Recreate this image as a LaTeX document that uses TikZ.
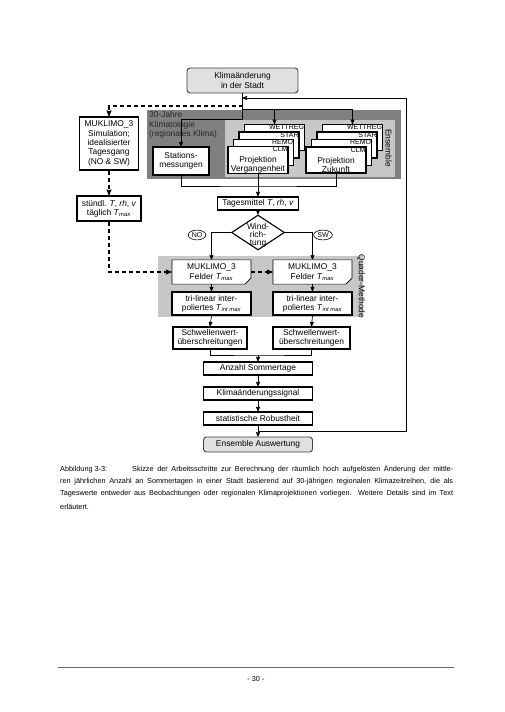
\documentclass[tikz,border=0pt]{standalone}
\usepackage{fontspec}
\setmainfont{Liberation Sans}
\usetikzlibrary{positioning}
\usetikzlibrary{arrows}
\usetikzlibrary{shapes.geometric}
\usetikzlibrary{shapes.misc}
\newcommand{\dfont}{\fontsize{8.4}{9.3}\selectfont}
\newcommand{\sfont}{\fontsize{7}{8}\selectfont}
\newcommand{\cfont}{\fontsize{7.3}{9}\selectfont}
\newcommand{\Tsub}[1]{\textit{T}\textsubscript{\textit{#1}}}
\tikzset{>=stealth'}
\tikzset{box/.style={draw, line width=1.4pt, fill=white, align=center, font=\dfont, inner sep=1pt}}
\tikzset{docbox/.style={draw, line width=0.7pt, fill=white, align=center, font=\dfont, inner sep=1pt,
  chamfered rectangle, chamfered rectangle corners=south east, chamfered rectangle xsep=3pt, chamfered rectangle ysep=3pt}}
\tikzset{endbox/.style={draw=black!75, line width=0.9pt, rounded corners=3pt, fill=black!12, align=center, font=\dfont}}
\tikzset{stackbox/.style={draw, line width=1.1pt, fill=white, align=center, font=\dfont, inner sep=0pt, minimum width=60pt, minimum height=26pt}}
\tikzset{tagbox/.style={anchor=north east, inner sep=0.8pt, font=\sfont}}
\tikzset{con/.style={->, line width=0.7pt}}
\tikzset{dcon/.style={->, line width=1.1pt, dash pattern=on 4pt off 3pt}}
\tikzset{side/.style={rotate=-90, font=\dfont}}
\tikzset{dir/.style={draw, ellipse, line width=0.6pt, inner sep=1pt, font=\sfont}}

\begin{document}
\begin{tikzpicture}[x=1pt, y=-1pt, on grid]
    \useasboundingbox (0,0) rectangle (504,712);
    \fill[white] (0,0) rectangle (504,712);

    % grey areas
    \fill[black!50] (147,110) rectangle (401,179);
    \fill[black!22] (225,120) rectangle (395,177);
    \fill[black!22] (158,256) rectangle (363,317);
    \node[anchor=north west, align=left, font=\dfont, inner sep=1pt, text=black!85] (klimat) at (148,110.5)
        {30-Jahre\\Klimatologie\\(regionales Klima)};
    \node[side] (ens) at (388.5,148) {Ensemble};
    \node[side] (quader) at (361,286.5) {Quader-Methode};

    \node[endbox, minimum width=111pt, minimum height=25pt] (clim) at (242.5,80.5) {Klimaänderung\\in der Stadt};

    \node[box, minimum width=59pt, minimum height=53pt] (muk) at (109,143.5)
        {MUKLIMO\_3\\Simulation;\\idealisierter\\Tagesgang\\(NO \& SW)};
    \node[box, minimum width=64pt, minimum height=25pt] (stu) at (109,208.5)
        {stündl. \textit{T}, \textit{rh}, \textit{v}\\täglich \Tsub{max}};
    \node[box, minimum width=56pt, minimum height=28pt] (stat) at (181,161) {Stations-\\messungen};

    % ensemble stacks
    \foreach \lab/\n/\dx/\dy in {WETTREG/3/16.5/22.5, STAR/2/11/15, REMO/1/5.5/7.5}{
        \node[stackbox, label={[tagbox]north east:\lab}] (v\n) at ({258+\dx},{160-\dy}) {};
        \node[stackbox, label={[tagbox]north east:\lab}] (z\n) at ({336+\dx},{160-\dy}) {};
    }
    \node[stackbox, label={[tagbox]north east:CLM}] (vergF) at (258,160) {\strut\\Projektion\\Vergangenheit};
    \node[stackbox, label={[tagbox]north east:CLM}] (zukF) at (336,160) {\strut\\Projektion\\Zukunft};

    \node[box, minimum width=81pt, minimum height=13pt] (tag) at (258,203.5) {Tagesmittel \textit{T}, \textit{rh}, \textit{v}};
    \node[draw, diamond, line width=1.1pt, fill=white, inner sep=0pt, minimum width=53pt, minimum height=35pt] (wind) at (258,232.5) {};
    \node[font=\fontsize{8.4}{8}\selectfont, align=center, inner sep=0pt] (windtxt) at (258,235.5) {Wind-\\rich-\\tung};
    \node[dir] (no) at (197,235) {NO};
    \node[dir] (sw) at (323,235) {SW};

    \node[docbox, minimum width=79pt, minimum height=20pt] (feldL) at (211.5,272) {MUKLIMO\_3\\Felder \Tsub{max}};
    \node[docbox, minimum width=79pt, minimum height=20pt] (feldR) at (312.5,272) {MUKLIMO\_3\\Felder \Tsub{max}};
    \node[box, minimum width=79pt, minimum height=23pt, below=31.5pt of feldL] (triL) {tri-linear inter-\\poliertes \Tsub{int max}};
    \node[box, minimum width=79pt, minimum height=23pt, below=31.5pt of feldR] (triR) {tri-linear inter-\\poliertes \Tsub{int max}};
    \node[box, minimum width=74pt, minimum height=22pt] (schwL) at (210,338) {Schwellenwert-\\überschreitungen};
    \node[box, minimum width=77pt, minimum height=22pt] (schwR) at (311.5,338) {Schwellenwert-\\überschreitungen};

    \node[box, minimum width=109pt, minimum height=13pt] (anz) at (258,368.5) {Anzahl Sommertage};
    \node[box, minimum width=109pt, minimum height=13pt, below=25pt of anz] (sig) {Klimaänderungssignal};
    \node[box, minimum width=109pt, minimum height=13pt, below=25pt of sig] (rob) {statistische Robustheit};
    \node[endbox, minimum width=109pt, minimum height=15pt, below=26pt of rob] (ausw) {Ensemble Auswertung};

    % connectors
    \coordinate (c0) at (242.5,106);
    \coordinate (c1) at (242.5,109);
    \coordinate (c2) at (242.5,119);
    \coordinate (c3) at (258,186);
    \coordinate (c4) at (258,355);
    \coordinate (c5) at (258,431);
    \coordinate (c7) at (406,98);

    \draw[line width=0.7pt] (clim.south) -- (c2);
    \draw[con] (c2) -| (stat.north);
    \draw[con] (c1) -| (v3.north);
    \draw[con] (c1) -| (z3.north);
    \draw[line width=0.7pt] (stat.south) |- (c3) -| (zukF.south);
    \draw[con] (vergF.south) -- (tag.north);
    \draw[con] (tag.south) -- (wind.north);
    \draw[con] (wind.west) -| (feldL.north);
    \draw[con] (wind.east) -| (feldR.north);
    \draw[con] (feldL.south) -- (triL.north);
    \draw[con] (feldR.south) -- (triR.north);
    \draw[con] (triL.south) -- (schwL.north);
    \draw[con] (triR.south) -- (schwR.north);
    \draw[line width=0.7pt] (schwL.south) |- (c4) -| (schwR.south);
    \draw[con] (c4) -- (anz.north);
    \draw[con] (anz) -- (sig);
    \draw[con] (sig) -- (rob);
    \draw[con] (rob) -- (ausw);
    \draw[con] (c5) -| (c7) -- (c7 -| clim.south);

    \draw[dcon] (c0) -| (muk.north);
    \draw[dcon] (muk.south) -- (stu.north);
    \draw[dcon] (stu.south) |- (feldL.west);
    \draw[dcon] (feldL.east) -- (feldR.west);

    % caption and page foot
    \node[anchor=west, inner sep=0pt, font=\cfont] (cap1) at (60,469)
        {\makebox[72pt][l]{Abbildung 3-3:}\makebox[321pt][s]{Skizze der Arbeitsschritte zur Berechnung der räumlich hoch aufgelösten Änderung der mittle-}};
    \node[anchor=west, inner sep=0pt, font=\cfont] (cap2) at (60,481.5)
        {\makebox[393pt][s]{ren jährlichen Anzahl an Sommertagen in einer Stadt basierend auf 30-jährigen regionalen Klimazeitreihen, die als}};
    \node[anchor=west, inner sep=0pt, font=\cfont] (cap3) at (60,494)
        {\makebox[393pt][s]{Tageswerte entweder aus Beobachtungen oder regionalen Klimaprojektionen vorliegen. Weitere Details sind im Text}};
    \node[anchor=west, inner sep=0pt, font=\cfont] (cap4) at (60,506.5) {erläutert.};

    \coordinate (fl) at (58,667);
    \coordinate (fr) at (454,667);
    \draw[black!60, line width=0.9pt] (fl) -- (fr);
    \node[font=\cfont] (page) at (256,678.5) {- 30 -};
\end{tikzpicture}
\end{document}
